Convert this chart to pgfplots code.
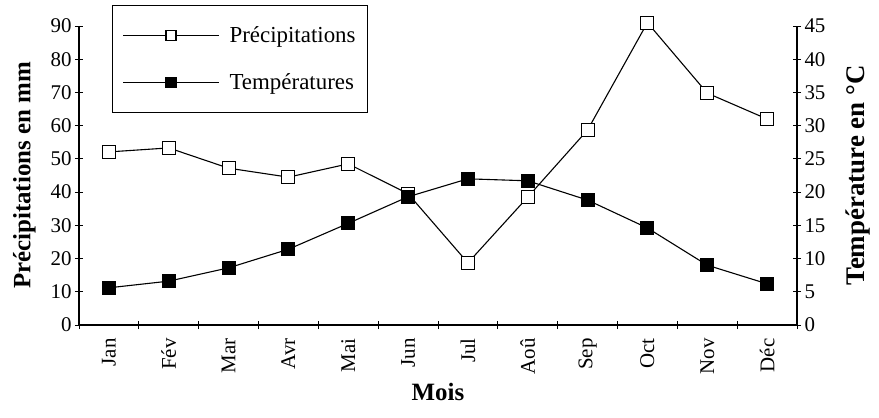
\documentclass[border=0pt]{standalone}
\usepackage{fontspec}
\setmainfont{Liberation Serif}
\usepackage{pgfplots}
\pgfplotsset{compat=1.18}

\pgfplotsset{
  common/.style={
    scale only axis,
    width=718bp, height=299bp,
    xmin=-0.5, xmax=11.5,
    clip=false,
    tick align=center,
    major tick length=8bp,
    minor tick length=8bp,
    tick style={black, line width=0.9bp},
    axis line style={black, line width=1.1bp},
    /pgf/number format/assume math mode=true,
    ticklabel style={font=\fontsize{21}{21}\selectfont},
    label style={font=\bfseries\fontsize{25}{25}\selectfont},
  },
}

\begin{document}
\begin{tikzpicture}
\useasboundingbox (-79bp,-93bp) rectangle (800bp,325bp);
\begin{axis}[
  common,
  axis x line*=bottom,
  axis y line*=left,
  ymin=0, ymax=90,
  ytick={0,10,...,90},
  xtick={0,...,11},
  xticklabels={Jan,Fév,Mar,Avr,Mai,Jun,Jul,Aoû,Sep,Oct,Nov,Déc},
  x tick label style={rotate=90, anchor=east, xshift=-6bp},
  major x tick style={draw=none},
  minor xtick={-0.5,0.5,...,11.5},
  xlabel={Mois},
  ylabel={Précipitations en mm},
  ylabel style={yshift=8bp},
  xlabel style={yshift=-2bp},
  legend style={
    at={(0.046,1.07)}, anchor=north west,
    draw=black, line width=0.9bp,
    font=\fontsize{23}{23}\selectfont,
    inner xsep=10bp, inner ysep=19bp,
    row sep=26bp,
    cells={anchor=west},
  },
  legend image code/.code={%
    \draw[#1, mark repeat=2, mark phase=2, mark size=5bp]
      plot coordinates {(0bp,0bp) (48bp,0bp) (96bp,0bp)};
    \path (104bp,0bp);},
]
\addplot[black, line width=1.1bp, mark=square*, mark size=6.5bp,
  mark options={fill=white, line width=1.1bp}] coordinates {
  (0,52.1) (1,53.3) (2,47.2) (3,44.5) (4,48.5) (5,39.5)
  (6,18.7) (7,38.5) (8,58.7) (9,91.0) (10,69.8) (11,62.0)
};
\addlegendentry{Précipitations}
\addlegendimage{black, line width=1.1bp, mark=square*,
  mark options={fill=black}}
\addlegendentry{Températures}
\end{axis}
\begin{axis}[
  common,
  axis x line=none,
  axis y line*=right,
  ymin=0, ymax=45,
  ytick={0,5,...,45},
  ylabel={Température en °C},
  ylabel style={yshift=-14bp, font=\bfseries\fontsize{27}{27}\selectfont},
]
\addplot[black, line width=1.1bp, mark=square*, mark size=6.5bp,
  mark options={fill=black}] coordinates {
  (0,5.6) (1,6.6) (2,8.6) (3,11.4) (4,15.3) (5,19.3)
  (6,22.0) (7,21.7) (8,18.8) (9,14.6) (10,9.0) (11,6.2)
};
\end{axis}
\end{tikzpicture}
\end{document}
